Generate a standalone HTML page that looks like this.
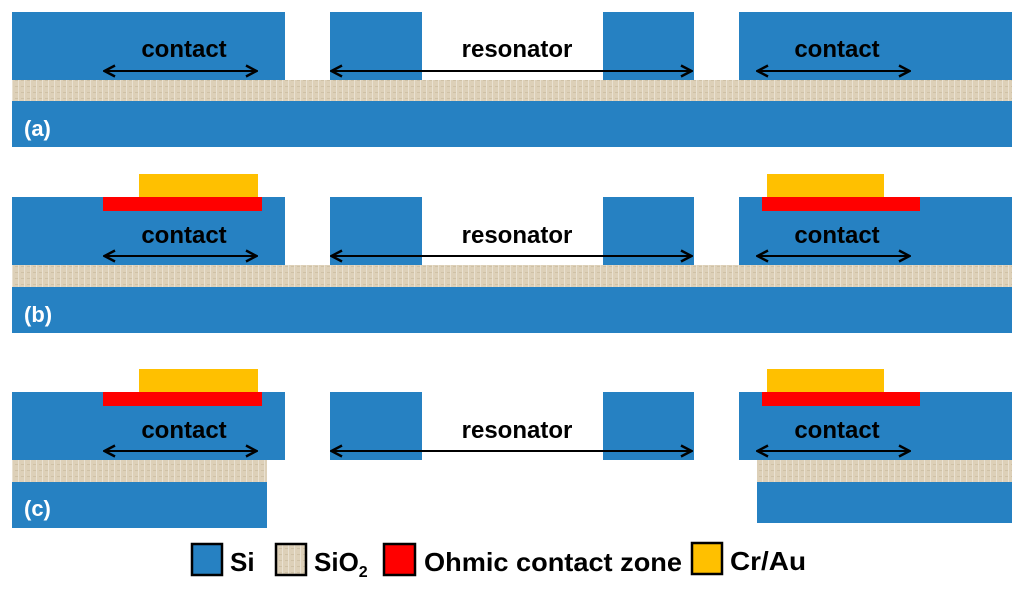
<!DOCTYPE html>
<html><head><meta charset="utf-8"><style>
body{margin:0;background:#fff}
svg text{font-family:"Liberation Sans",sans-serif;font-weight:bold}
</style></head><body>
<svg width="1024" height="590" viewBox="0 0 1024 590" xmlns="http://www.w3.org/2000/svg">
<defs>
<pattern id="ox" width="6" height="6" patternUnits="userSpaceOnUse">
<rect width="6" height="6" fill="#ddd0b8"/>
<rect x="0" y="0" width="1" height="6" fill="#e9e1d1"/>
<rect x="3" y="2" width="3" height="1" fill="#cfc1a6"/>
</pattern>
<marker id="ah" viewBox="0 0 14 14" refX="13" refY="7" markerWidth="14" markerHeight="14" orient="auto-start-reverse" markerUnits="userSpaceOnUse">
<path d="M2,1.5 L12.5,7 L2,12.5" fill="none" stroke="#000" stroke-width="2.4"/>
</marker>
</defs>
<g fill="#2681c2">
<rect x="12" y="12" width="273" height="68"/><rect x="330" y="12" width="92" height="68"/>
<rect x="603" y="12" width="91" height="68"/><rect x="739" y="12" width="273" height="68"/>
<rect x="12" y="101" width="1000" height="46"/>
<rect x="12" y="197" width="273" height="68"/><rect x="330" y="197" width="92" height="68"/>
<rect x="603" y="197" width="91" height="68"/><rect x="739" y="197" width="273" height="68"/>
<rect x="12" y="287" width="1000" height="46"/>
<rect x="12" y="392" width="273" height="68"/><rect x="330" y="392" width="92" height="68"/>
<rect x="603" y="392" width="91" height="68"/><rect x="739" y="392" width="273" height="68"/>
<rect x="12" y="482" width="255" height="46"/><rect x="757" y="482" width="255" height="41"/>
</g>
<g fill="url(#ox)">
<rect x="12" y="80" width="1000" height="21"/>
<rect x="12" y="265" width="1000" height="22"/>
<rect x="12" y="460" width="255" height="22"/>
<rect x="757" y="460" width="255" height="22"/>
</g>
<g fill="#ffc000"><rect x="139" y="174" width="119" height="23"/><rect x="767" y="174" width="117" height="23"/>
<rect x="139" y="369" width="119" height="23"/><rect x="767" y="369" width="117" height="23"/></g>
<g fill="#ff0000"><rect x="103" y="197" width="159" height="14"/><rect x="762" y="197" width="158" height="14"/>
<rect x="103" y="392" width="159" height="14"/><rect x="762" y="392" width="158" height="14"/></g>
<g stroke="#000" stroke-width="2" marker-start="url(#ah)" marker-end="url(#ah)">
<line x1="104" y1="71" x2="257" y2="71"/><line x1="331" y1="71" x2="692" y2="71"/><line x1="757" y1="71" x2="910" y2="71"/>
<line x1="104" y1="256" x2="257" y2="256"/><line x1="331" y1="256" x2="692" y2="256"/><line x1="757" y1="256" x2="910" y2="256"/>
<line x1="104" y1="451" x2="257" y2="451"/><line x1="331" y1="451" x2="692" y2="451"/><line x1="757" y1="451" x2="910" y2="451"/>
</g>
<g font-size="24" fill="#000" text-anchor="middle">
<text x="184" y="57">contact</text><text x="517" y="57">resonator</text><text x="837" y="57">contact</text>
<text x="184" y="243">contact</text><text x="517" y="243">resonator</text><text x="837" y="243">contact</text>
<text x="184" y="438">contact</text><text x="517" y="438">resonator</text><text x="837" y="438">contact</text>
</g>
<g font-size="22" fill="#fff">
<text x="24" y="136">(a)</text><text x="24" y="322">(b)</text><text x="24" y="516">(c)</text>
</g>
<g stroke="#000" stroke-width="2.5">
<rect x="192" y="544" width="30" height="31" fill="#2681c2"/>
<rect x="276" y="544" width="30" height="31" fill="url(#ox)"/>
<rect x="384" y="544" width="31" height="31" fill="#ff0000"/>
<rect x="692" y="543" width="30" height="31" fill="#ffc000"/>
</g>
<g font-size="26" fill="#000">
<text x="230" y="571">Si</text>
<text x="314" y="571">SiO<tspan font-size="16" dy="6">2</tspan></text>
<text x="424" y="571" textLength="258" lengthAdjust="spacingAndGlyphs">Ohmic contact zone</text>
<text x="730" y="570" textLength="76" lengthAdjust="spacingAndGlyphs">Cr/Au</text>
</g>
</svg>
</body></html>
